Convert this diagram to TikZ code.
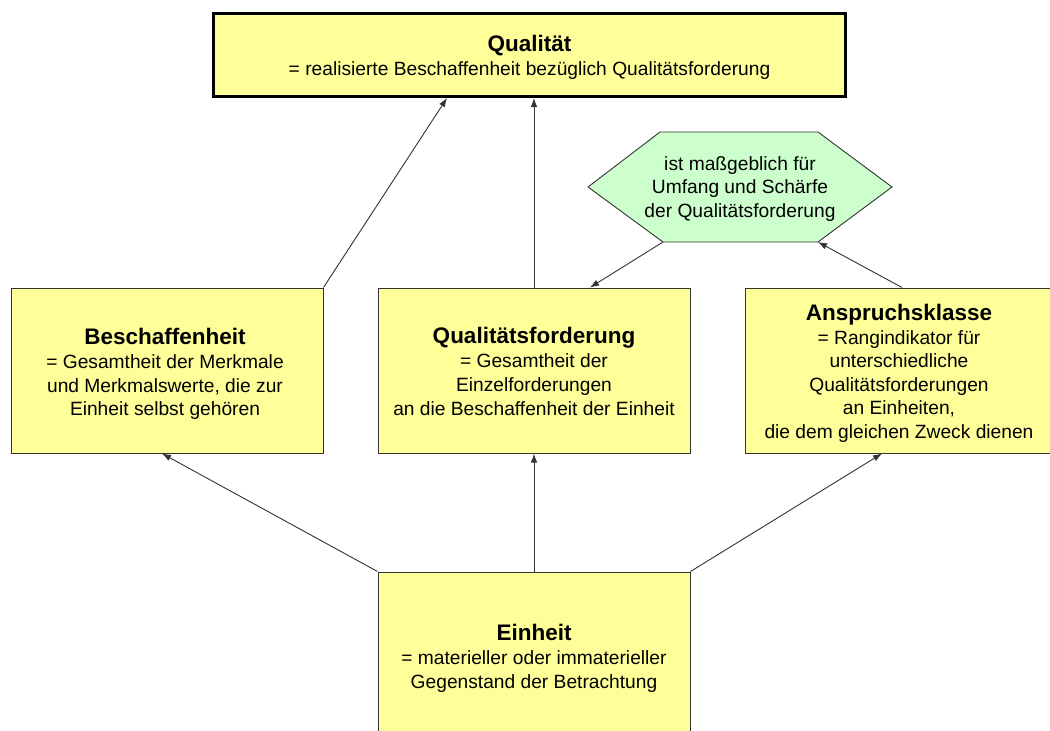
\documentclass[tikz,border=0pt]{standalone}
\usepackage{fontspec}
\setmainfont{Liberation Sans}
\usetikzlibrary{arrows.meta}
\definecolor{boxyellow}{HTML}{FFFF99}
\definecolor{hexgreen}{HTML}{CCFFCC}
\definecolor{linegray}{HTML}{333333}
\newcommand{\bodyfont}{\fontsize{19.2}{23.8}\selectfont}
\newcommand{\titlefont}{\fontsize{22.5}{23.8}\selectfont\bfseries}
\begin{document}
\begin{tikzpicture}[x=1pt,y=-1pt,
  box/.style={draw=linegray, line width=1pt, fill=boxyellow, inner sep=0pt},
  txt/.style={align=center, inner sep=0pt, font=\bodyfont},
  conn/.style={draw=linegray, line width=0.9pt, -{Latex[length=9pt,width=6.5pt]}}]
\useasboundingbox[fill=white] (0,0) rectangle (1050,731);

% boxes
\node[box, line width=3pt, draw=black, minimum width=632pt, minimum height=83pt]
  (qual) at (529.5,55) {};
\node[box, minimum width=312pt, minimum height=165pt] (besch) at (167,370.5) {};
\node[box, minimum width=312pt, minimum height=165pt] (qford) at (534,370.5) {};
% the right box runs past the right edge, the lower one past the bottom edge
\node[box, minimum width=308pt, minimum height=165pt] (anspr) at (899,370.5) {};
\node[box, minimum width=312pt, minimum height=170pt] (einh) at (534,657) {};

% box texts
\node[txt] (qualtext) at ([yshift=-2.5pt]qual.center)
  {{\titlefont Qualität}\\
   = realisierte Beschaffenheit bezüglich Qualitätsforderung};
\node[txt] (beschtext) at ([xshift=-2pt,yshift=-3.5pt]besch.center)
  {{\titlefont Beschaffenheit}\\
   = Gesamtheit der Merkmale\\
   und Merkmalswerte, die zur\\
   Einheit selbst gehören};
\node[txt] (qfordtext) at ([yshift=-1pt]qford.center)
  {{\titlefont Qualitätsforderung}\\
   = Gesamtheit der\\
   Einzelforderungen\\
   an die Beschaffenheit der Einheit};
\node[txt, font=\fontsize{19.2}{23.5}\selectfont] (ansprtext) at ([yshift=-3pt]anspr.center)
  {{\titlefont Anspruchsklasse}\\
   = Rangindikator für\\
   unterschiedliche\\
   Qualitätsforderungen\\
   an Einheiten,\\
   die dem gleichen Zweck dienen};
\node[txt] (einhtext) at ([yshift=-1.5pt]einh.center)
  {{\titlefont Einheit}\\
   = materieller oder immaterieller\\
   Gegenstand der Betrachtung};

% hexagon
\coordinate (hw) at (588,187);
\coordinate (htl) at (660,132);
\coordinate (htr) at (818,132);
\coordinate (he) at (892,187);
\coordinate (hbr) at (818,242);
\coordinate (hbl) at (663,242);
\draw[draw=linegray, line width=0.9pt, fill=hexgreen]
  (hw) -- (htl) -- (htr) -- (he) -- (hbr) -- (hbl) -- cycle;
\node[txt] (hex) at (740,189)
  {ist maßgeblich für\\Umfang und Schärfe\\der Qualitätsforderung};

% connectors
\draw[conn] (besch.north east) -- (447,96.5 |- qual.south);
\draw[conn] (qford.north) -- (qford.north |- qual.south);
\draw[conn] (hbl) -- (590,288 |- qford.north);
\draw[conn] (902,288 |- anspr.north) -- (hbr);
\draw[conn] (einh.north west) -- (162,453 |- besch.south);
\draw[conn] (einh.north) -- (qford.south);
\draw[conn] (einh.north east) -- (882,453 |- anspr.south);
\end{tikzpicture}
\end{document}
